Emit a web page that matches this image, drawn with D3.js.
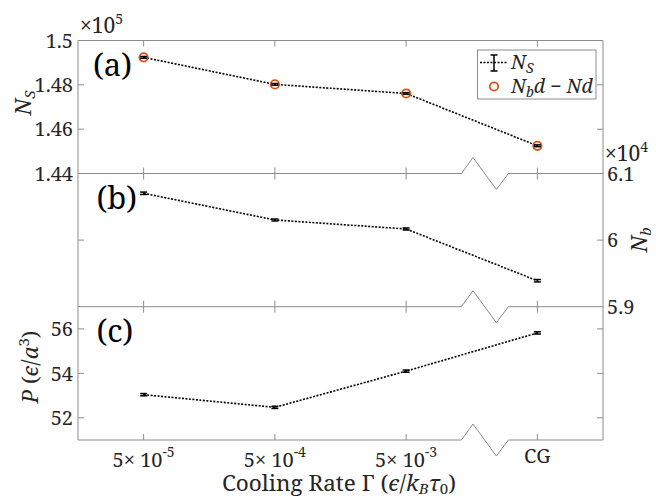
<!DOCTYPE html>
<html>
<head>
<meta charset="utf-8">
<script src="https://cdn.jsdelivr.net/npm/d3@7"></script>
<style>
  body { margin: 0; background: #fff; }
  svg text { font-family: "Noto Serif", "Liberation Serif", serif; fill: #262626; }
</style>
</head>
<body>
<svg width="656" height="500"></svg>
<script>
// x categories (cooling rates + coarse grained)
var rates = ['5e-5', '5e-4', '5e-3', 'CG']
var rateLabels = [['5\u00d7 10', '-5'], ['5\u00d7 10', '-4'], ['5\u00d7 10', '-3'], ['CG', '']]

// (a) N_S in units of 1e5, and N_b d - N d (same points)
var nsVals = [1.4924, 1.4802, 1.4761, 1.4525]
var nsErr = [0.0004, 0.0004, 0.0004, 0.0004]
var nbdVals = [1.4924, 1.4802, 1.4761, 1.4525]

// (b) N_b in units of 1e4
var nbVals = [6.0703, 6.0302, 6.0167, 5.9390]
var nbErr = [0.0018, 0.0015, 0.0015, 0.0018]

// (c) pressure P
var pVals = [53.04, 52.47, 54.10, 55.82]
var pErr = [0.05, 0.05, 0.05, 0.05]

var nsTicks = [1.44, 1.46, 1.48, 1.5]
var nbTicks = [5.9, 6, 6.1]
var pTicks = [52, 54, 56]

var svg = d3.select('svg')
var axisColor = '#8c8c8c'
var left = 78, right = 603

var x = d3.scaleLinear().domain([-0.5, 3.5]).range([left, right])
var breakAt = 2.6 // where the axis break zigzag sits (between 5e-3 and CG)

var panels = [
  { name: '(a)', vals: nsVals, err: nsErr, domain: [1.44, 1.5], top: 40.5, bottom: 173.5 },
  { name: '(b)', vals: nbVals, err: nbErr, domain: [5.9, 6.1], top: 173.5, bottom: 306.7 },
  { name: '(c)', vals: pVals, err: pErr, domain: [51, 57], top: 306.7, bottom: 440 }
]
panels.forEach(p => {
  p.y = d3.scaleLinear().domain(p.domain).range([p.bottom, p.top])
})

var frame = svg.append('g')
var marks = svg.append('g')
var labels = svg.append('g')

// frame: left and right verticals
frame.append('line').attr('x1', left).attr('x2', left).attr('y1', 40.5).attr('y2', 440)
  .attr('stroke', axisColor)
frame.append('line').attr('x1', right).attr('x2', right).attr('y1', 40.5).attr('y2', 440)
  .attr('stroke', axisColor)
// top line without break
frame.append('line').attr('x1', left).attr('x2', right).attr('y1', 40.5).attr('y2', 40.5)
  .attr('stroke', axisColor)

// horizontal boundaries with the zigzag break
var bx0 = x(breakAt) - 23.5, bx1 = x(breakAt) + 23.5
;[173.5, 306.7, 440].forEach(yy => {
  var pts = [[left, yy], [bx0, yy], [bx0 + 11.6, yy - 16], [bx0 + 35, yy + 16], [bx1, yy], [right, yy]]
  frame.append('path').attr('d', d3.line()(pts))
    .attr('fill', 'none').attr('stroke', axisColor)
})

// x ticks at each boundary (inward both ways)
var tickLen = 6
;[40.5, 173.5, 306.7, 440].forEach((yy, i) => {
  rates.forEach((r, j) => {
    frame.append('line')
      .attr('x1', x(j)).attr('x2', x(j))
      .attr('y1', i === 0 ? yy : yy - tickLen)
      .attr('y2', i === 3 ? yy : yy + tickLen)
      .attr('stroke', axisColor)
  })
})

// y ticks
function yTicks(p, ticks, side, withLabels, fmt) {
  ticks.forEach(t => {
    var yy = p.y(t)
    if (yy > p.top + 1 && yy < p.bottom - 1) {
      var x0 = side === 'left' ? left : right
      var dir = side === 'left' ? 1 : -1
      frame.append('line').attr('x1', x0).attr('x2', x0 + dir * tickLen)
        .attr('y1', yy).attr('y2', yy).attr('stroke', axisColor)
    }
    if (withLabels) {
      labels.append('text')
        .attr('x', side === 'left' ? left - 5 : right + 4)
        .attr('y', yy)
        .attr('dy', '0.36em')
        .attr('text-anchor', side === 'left' ? 'end' : 'start')
        .attr('font-size', 20)
        .text(fmt(t))
    }
  })
}
var fmtN = d => String(+d.toFixed(2))
yTicks(panels[0], nsTicks, 'left', true, fmtN)
yTicks(panels[0], nsTicks, 'right', false)
yTicks(panels[1], nbTicks, 'left', false)
yTicks(panels[1], nbTicks, 'right', true, fmtN)
yTicks(panels[2], pTicks, 'left', true, fmtN)
yTicks(panels[2], pTicks, 'right', false)

// data lines, circles and error bars
panels.forEach((p, pi) => {
  var line = d3.line().x((d, i) => x(i)).y(d => p.y(d))
  marks.append('path').datum(p.vals).attr('d', line)
    .attr('fill', 'none').attr('stroke', '#000')
    .attr('stroke-width', 1.6).attr('stroke-dasharray', '2,1.5')

  if (pi === 0) {
    marks.selectAll('circle.nbd').data(nbdVals).enter().append('circle')
      .attr('class', 'nbd')
      .attr('cx', (d, i) => x(i)).attr('cy', d => p.y(d)).attr('r', 4.2)
      .attr('fill', 'none').attr('stroke', '#D95319').attr('stroke-width', 1.8)
  }

  p.vals.forEach((v, i) => {
    var g = marks.append('g').attr('stroke', '#000').attr('stroke-width', 1.5)
    var y0 = p.y(v - p.err[i]), y1 = p.y(v + p.err[i])
    g.append('line').attr('x1', x(i)).attr('x2', x(i)).attr('y1', y0).attr('y2', y1)
    g.append('line').attr('x1', x(i) - 3.5).attr('x2', x(i) + 3.5).attr('y1', y0).attr('y2', y0)
    g.append('line').attr('x1', x(i) - 3.5).attr('x2', x(i) + 3.5).attr('y1', y1).attr('y2', y1)
  })

  labels.append('text').attr('x', left + 15 + (pi > 0 ? 3.5 : 0)).attr('y', p.top + 35)
    .attr('font-size', 31).style('fill', '#000').text(p.name)
})

// exponent labels
var e5 = labels.append('text').attr('x', 80).attr('y', 33).attr('font-size', 21)
e5.append('tspan').text('\u00d710')
e5.append('tspan').attr('dy', -9).attr('font-size', 14).text('5')
var e4 = labels.append('text').attr('x', 605).attr('y', 161).attr('font-size', 21)
e4.append('tspan').text('\u00d710')
e4.append('tspan').attr('dy', -9).attr('font-size', 14).text('4')

// x tick labels
rateLabels.forEach((l, i) => {
  var t = labels.append('text').attr('x', x(i)).attr('y', l[1] ? 467 : 463)
    .attr('text-anchor', 'middle').attr('font-size', 20)
  t.append('tspan').text(l[0])
  if (l[1]) t.append('tspan').attr('dy', -10).attr('font-size', 14).text(l[1])
})

// x axis title
var xt = labels.append('text').attr('x', 339).attr('y', 491)
  .attr('text-anchor', 'middle').attr('font-size', 22.5)
xt.append('tspan').text('Cooling Rate \u0393 (')
xt.append('tspan').attr('font-style', 'italic').text('\u03f5')
xt.append('tspan').text('/')
xt.append('tspan').attr('font-style', 'italic').text('k')
xt.append('tspan').attr('font-style', 'italic').attr('font-size', 15).attr('dy', 3).text('B')
xt.append('tspan').attr('font-style', 'italic').attr('dy', -3).text('\u03c4')
xt.append('tspan').attr('font-size', 15).attr('dy', 3).text('0')
xt.append('tspan').attr('dy', -3).text(')')

// y axis titles
var ys = labels.append('text').attr('transform', 'translate(31,103) rotate(-90)')
  .attr('text-anchor', 'middle').attr('font-size', 22)
ys.append('tspan').attr('font-style', 'italic').text('N')
ys.append('tspan').attr('font-style', 'italic').attr('font-size', 15).attr('dy', 4).text('S')

var yp = labels.append('text').attr('transform', 'translate(38,367) rotate(-90)')
  .attr('text-anchor', 'middle').attr('font-size', 22)
yp.append('tspan').attr('font-style', 'italic').text('P')
yp.append('tspan').text(' (')
yp.append('tspan').attr('font-style', 'italic').text('\u03f5')
yp.append('tspan').text('/')
yp.append('tspan').attr('font-style', 'italic').text('a')
yp.append('tspan').attr('font-size', 15).attr('dy', -9).text('3')
yp.append('tspan').attr('dy', 9).text(')')

var yb = labels.append('text').attr('transform', 'translate(647,240) rotate(-90)')
  .attr('text-anchor', 'middle').attr('font-size', 22)
yb.append('tspan').attr('font-style', 'italic').text('N')
yb.append('tspan').attr('font-style', 'italic').attr('font-size', 15).attr('dy', 4).text('b')

// legend
var lg = svg.append('g')
lg.append('rect').attr('x', 477.5).attr('y', 50).attr('width', 118.5).attr('height', 49)
  .attr('fill', '#fff').attr('stroke', axisColor)
lg.append('line').attr('x1', 480).attr('x2', 507).attr('y1', 62.5).attr('y2', 62.5)
  .attr('stroke', '#000').attr('stroke-width', 1.6).attr('stroke-dasharray', '2,1.5')
lg.append('line').attr('x1', 494).attr('x2', 494).attr('y1', 55).attr('y2', 71)
  .attr('stroke', '#000').attr('stroke-width', 1.5)
lg.append('line').attr('x1', 490.5).attr('x2', 497.5).attr('y1', 55).attr('y2', 55)
  .attr('stroke', '#000').attr('stroke-width', 1.5)
lg.append('line').attr('x1', 490.5).attr('x2', 497.5).attr('y1', 71).attr('y2', 71)
  .attr('stroke', '#000').attr('stroke-width', 1.5)
lg.append('circle').attr('cx', 494).attr('cy', 86.5).attr('r', 4.2)
  .attr('fill', 'none').attr('stroke', '#D95319').attr('stroke-width', 1.8)

var l1 = lg.append('text').attr('x', 511).attr('y', 69).attr('font-size', 19.5).attr('font-style', 'italic')
l1.append('tspan').text('N')
l1.append('tspan').attr('font-size', 14).attr('dy', 4).text('S')
var l2 = lg.append('text').attr('x', 511).attr('y', 93).attr('font-size', 19.5).attr('font-style', 'italic')
l2.append('tspan').text('N')
l2.append('tspan').attr('font-size', 14).attr('dy', 4).text('b')
l2.append('tspan').attr('dy', -4).text('d')
l2.append('tspan').attr('font-style', 'normal').text(' \u2212 ')
l2.append('tspan').text('Nd')
</script>
</body>
</html>
